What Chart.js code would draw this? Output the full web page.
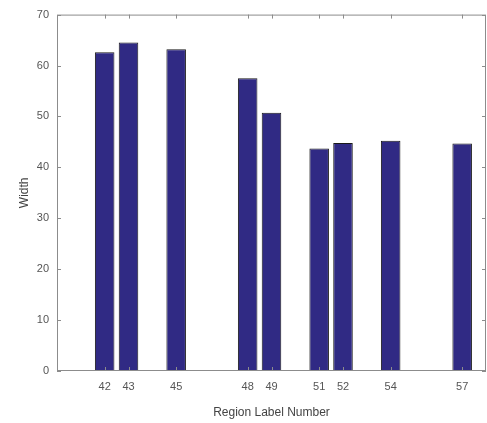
<!DOCTYPE html>
<html>
<head>
<meta charset="utf-8">
<script src="https://cdn.jsdelivr.net/npm/chart.js@4.4.0/dist/chart.umd.min.js"></script>
<style>
  html, body { margin: 0; padding: 0; background: #fff; }
  #wrap { width: 487px; height: 423px; }
</style>
</head>
<body>
<div id="wrap"><canvas id="barChart" width="487" height="423"></canvas></div>
<script>
// region labels and their widths
const regionLabels = [42, 43, 45, 48, 49, 51, 52, 54, 57];
const widths = [62.6, 64.5, 63.2, 57.5, 50.7, 43.7, 44.8, 45.2, 44.7];
const yTicks = [0, 10, 20, 30, 40, 50, 60, 70];

const axisGray = '#8c8c8c';
const textGray = '#555555';

// box round the plot with small inward ticks, the way matlab draws it
const boxPlugin = {
    id: 'box',
    afterDatasetsDraw(chart) {
        const { ctx, chartArea: a, scales } = chart;
        ctx.save();
        ctx.strokeStyle = axisGray;
        ctx.lineWidth = 1;
        ctx.strokeRect(a.left + 0.5, a.top + 0.5, a.right - a.left - 1, a.bottom - a.top - 1);
        ctx.beginPath();
        regionLabels.forEach(v => {
            const x = Math.round(scales.x.getPixelForValue(v)) + 0.5;
            ctx.moveTo(x, a.bottom); ctx.lineTo(x, a.bottom - 4);
            ctx.moveTo(x, a.top); ctx.lineTo(x, a.top + 4);
        });
        yTicks.forEach(v => {
            const y = Math.round(scales.y.getPixelForValue(v)) + 0.5;
            ctx.moveTo(a.left, y); ctx.lineTo(a.left + 4, y);
            ctx.moveTo(a.right, y); ctx.lineTo(a.right - 4, y);
        });
        ctx.stroke();
        ctx.restore();
    }
};

const ctx = document.getElementById('barChart').getContext('2d');
const chart = new Chart(ctx, {
    type: 'bar',
    data: {
        datasets: [{
            data: regionLabels.map((r, i) => ({ x: r, y: widths[i] })),
            backgroundColor: '#302a84',
            borderColor: '#1a1a1a',
            borderWidth: 1,
            categoryPercentage: 1,
            barPercentage: 0.82
        }]
    },
    options: {
        responsive: false,
        animation: false,
        layout: { padding: { top: 10, right: 1, left: 0, bottom: 3 } },
        plugins: { legend: { display: false }, tooltip: { enabled: false } },
        scales: {
            x: {
                type: 'linear',
                min: 40,
                max: 58,
                offset: false,
                grid: { display: false, drawTicks: false, offset: false },
                border: { display: false },
                afterBuildTicks: s => { s.ticks = regionLabels.map(v => ({ value: v })); },
                afterFit: s => { s.height = 49; },
                ticks: {
                    color: textGray,
                    font: { family: 'Liberation Sans', size: 11 },
                    padding: 9,
                    maxRotation: 0,
                    autoSkip: false
                },
                title: {
                    display: true,
                    text: 'Region Label Number',
                    color: '#444',
                    font: { family: 'Liberation Sans', size: 12 },
                    padding: { top: 0, bottom: 0 }
                }
            },
            y: {
                min: 0,
                max: 70,
                grid: { display: false, drawTicks: false },
                border: { display: false },
                afterBuildTicks: s => { s.ticks = yTicks.map(v => ({ value: v })); },
                afterFit: s => { s.width = 57; },
                ticks: {
                    color: textGray,
                    font: { family: 'Liberation Sans', size: 11 },
                    padding: 8
                },
                title: {
                    display: true,
                    text: 'Width',
                    color: '#444',
                    font: { family: 'Liberation Sans', size: 12 },
                    padding: { top: 17, bottom: 0 }
                }
            }
        }
    },
    plugins: [boxPlugin]
});
</script>
</body>
</html>
